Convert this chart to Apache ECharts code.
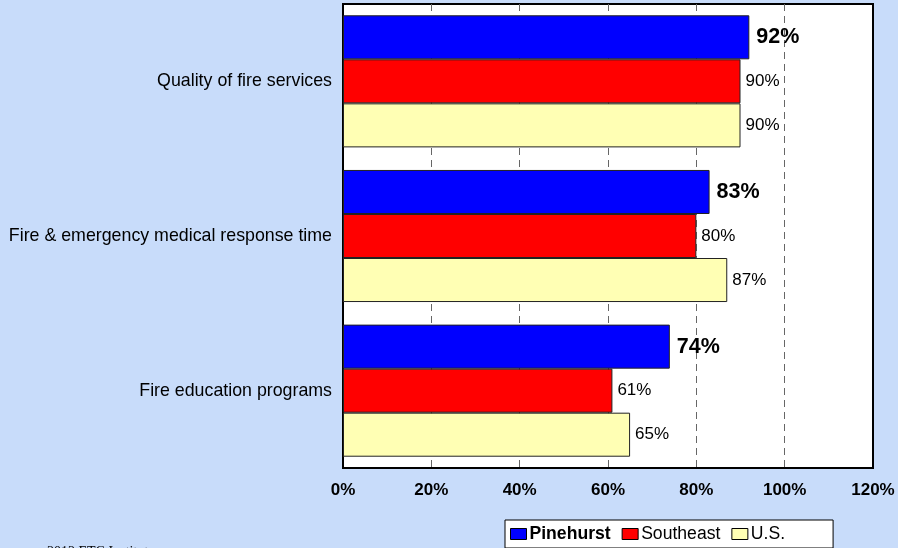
<!DOCTYPE html>
<html><head><meta charset="utf-8">
<script src="https://cdn.jsdelivr.net/npm/echarts@6/dist/echarts.min.js"></script>
<style>html,body{margin:0;padding:0;background:#C8DCFA;}#c{width:898px;height:548px;}</style>
</head><body><div id="c"></div>
<script>
const categories = ['Quality of fire services', 'Fire & emergency medical response time', 'Fire education programs'];
const pinehurst = [92, 83, 74];
const southeast = [90, 80, 61];
const us = [90, 87, 65];
const seriesNames = ['Pinehurst', 'Southeast', 'U.S.'];
const xTicks = [0, 20, 40, 60, 80, 100, 120];

const chart = echarts.init(document.getElementById('c'));
const baseFont = 'Liberation Sans, Arial, sans-serif';
function mk(name, data, color, bold) {
  return {
    name: name, type: 'bar', data: data, barGap: '0%', barCategoryGap: '14.6%',
    itemStyle: {color: color, borderColor: '#222', borderWidth: 1},
    label: {show: true, position: 'right', distance: bold ? 7 : 5, formatter: '{c}%',
      fontFamily: baseFont, color: '#000',
      fontSize: bold ? 21.5 : 17, fontWeight: bold ? 'bold' : 'normal'},
    emphasis: {disabled: true}
  };
}
chart.setOption({
  backgroundColor: '#C8DCFA',
  animation: false,
  grid: {left: 343, top: 4, width: 530, height: 464, show: true, backgroundColor: '#fff', borderColor: '#000', borderWidth: 2},
  xAxis: {type: 'value', min: xTicks[0], max: xTicks[xTicks.length-1], interval: 20,
    axisLine: {show: false}, axisTick: {show: false},
    axisLabel: {formatter: '{value}%', fontFamily: baseFont, fontSize: 17, fontWeight: 'bold', color: '#000', margin: 14},
    splitLine: {show: true, showMinLine: false, showMaxLine: false, lineStyle: {color: '#666', type: [7, 5], width: 1}}},
  yAxis: {type: 'category', data: categories, inverse: true,
    axisLine: {show: false}, axisTick: {show: false},
    axisLabel: {fontFamily: baseFont, fontSize: 17.8, color: '#000', margin: 11}},
  legend: {left: 505, top: 520, itemWidth: 16, itemHeight: 11, itemGap: 11,
    padding: [5, 48, 5, 5], backgroundColor: '#fff', borderColor: '#000', borderWidth: 1, borderRadius: 0,
    data: seriesNames.map(n => ({name: n, icon: 'rect'})),
    itemStyle: {borderColor: '#000', borderWidth: 1},
    textStyle: {fontFamily: baseFont, fontSize: 17.6, color: '#000', padding: [0, 0, 0, -2],
      rich: {b: {fontFamily: baseFont, fontSize: 17.6, fontWeight: 'bold', color: '#000'}}},
    formatter: n => n === seriesNames[0] ? '{b|' + n + '}' : n},
  graphic: [{type: 'text', left: 47, top: 545, style: {text: '2012 ETC Institute', font: '14px "Liberation Serif", serif', fill: '#000'}}],
  series: [mk(seriesNames[0], pinehurst, '#0000FF', true), mk(seriesNames[1], southeast, '#FF0000', false), mk(seriesNames[2], us, '#FFFFB4', false)]
});
</script></body></html>
